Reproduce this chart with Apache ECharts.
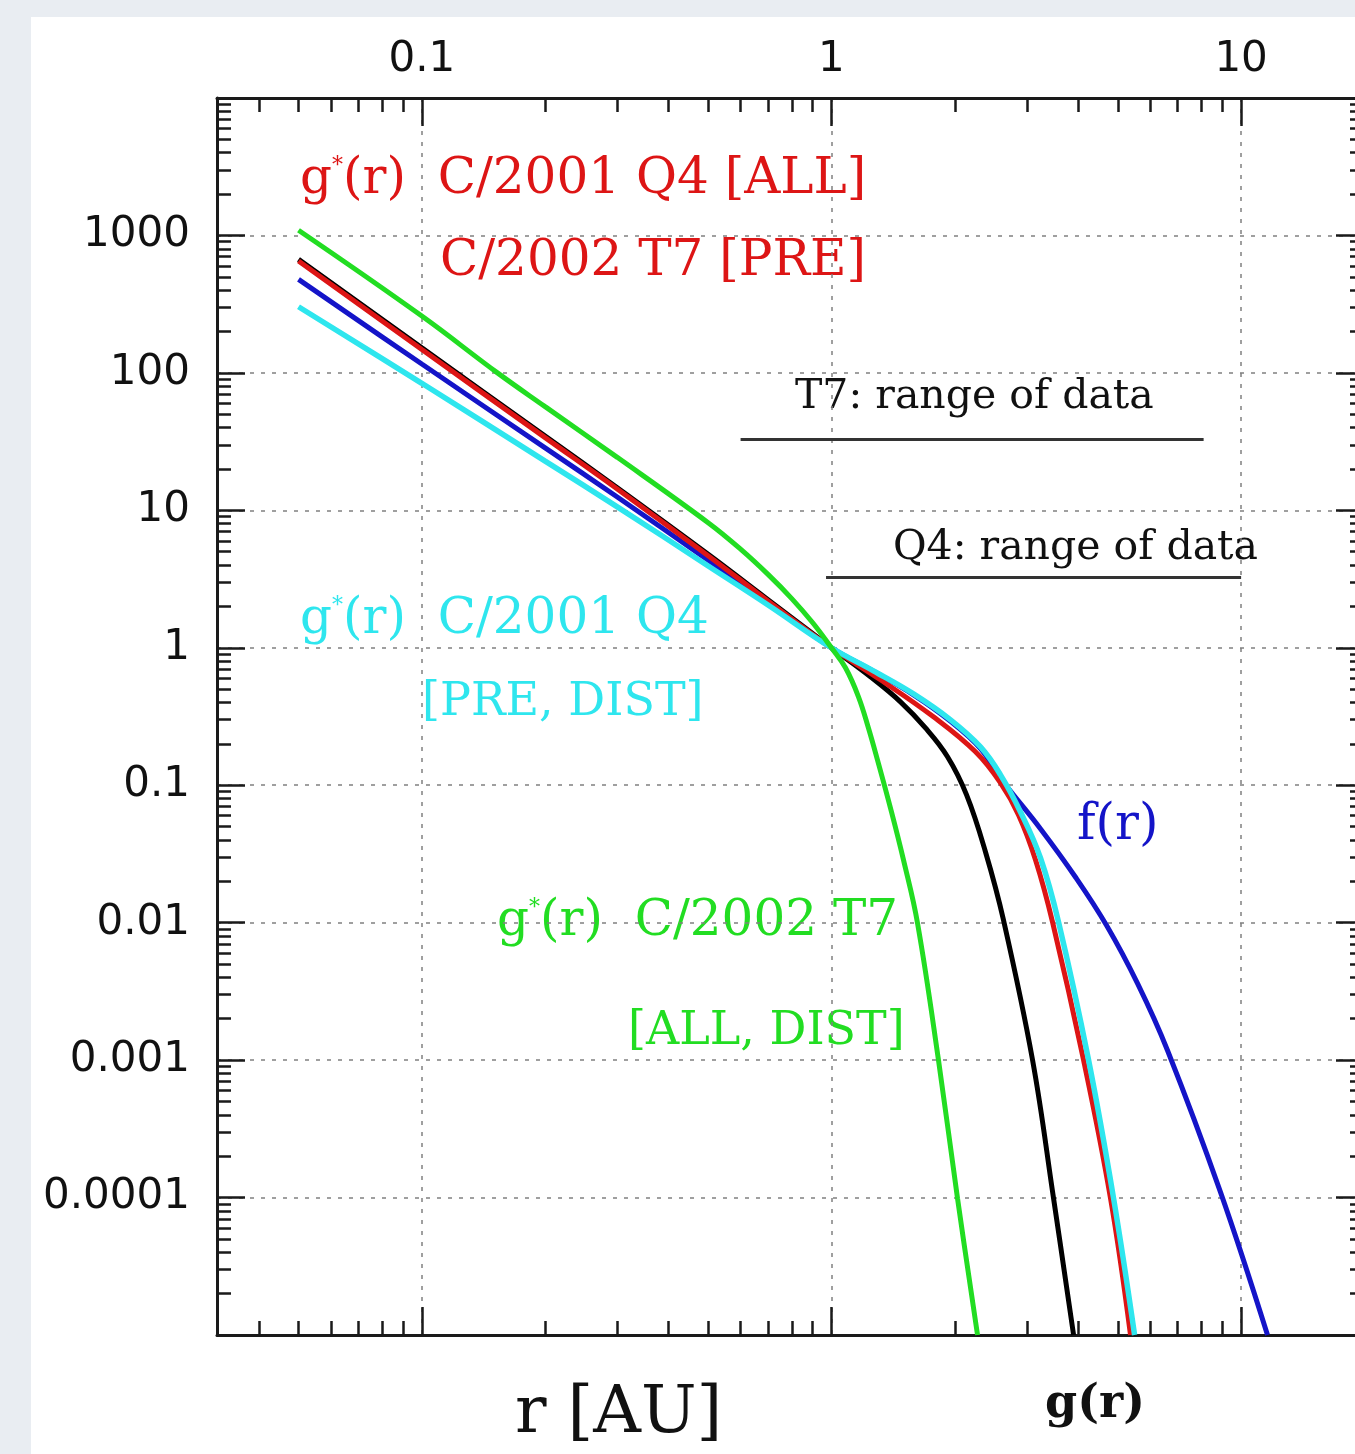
<!DOCTYPE html>
<html>
<head>
<meta charset="utf-8">
<script src="https://cdn.jsdelivr.net/npm/echarts@6/dist/echarts.min.js"></script>
<style>
html, body { margin: 0; padding: 0; background: #e9edf2; }
#chart { width: 1355px; height: 1454px; }
</style>
</head>
<body>
<div id="chart"></div>
<script>
// heliocentric distance r [AU] and normalised rates
const rBlack = [0.05, 0.1, 0.2, 0.3, 0.5, 0.7, 1, 1.245, 1.474, 1.696, 1.92, 2.137, 2.377, 2.63, 3.097, 3.484, 3.9];
const gBlack = [670, 152, 34.7, 14.6, 4.79, 2.24, 1, 0.615, 0.404, 0.261, 0.161, 0.085, 0.0327, 0.01045, 0.001, 0.0000989, 0.00001];

const rBlue = [0.05, 0.1, 0.2, 0.3, 0.5, 0.7, 1, 1.266, 1.586, 1.953, 2.311, 2.59, 3.24, 3.94, 4.7, 5.59, 6.61, 8.91, 11.6];
const fBlue = [479, 116, 28.5, 12.5, 4.33, 2.12, 1, 0.675, 0.455, 0.292, 0.185, 0.112, 0.0481, 0.0215, 0.0095, 0.0036, 0.00118, 0.000109, 0.00001];

const rRed = [0.05, 0.1, 0.2, 0.3, 0.5, 0.7, 1, 1.317, 1.774, 2.247, 2.586, 2.862, 3.149, 3.465, 4.125, 4.8, 5.37];
const gRed = [652, 148, 33.8, 14.3, 4.68, 2.19, 1, 0.585, 0.3145, 0.175, 0.104, 0.0608, 0.0286, 0.0101, 0.001, 0.0000986, 0.00001];

const rCyan = [0.05, 0.1, 0.2, 0.3, 0.5, 0.7, 1, 1.266, 1.586, 1.953, 2.311, 2.586, 2.894, 3.238, 3.584, 4.243, 4.883, 5.495];
const gCyan = [303, 84, 22.8, 10.6, 3.94, 2.05, 1, 0.68, 0.462, 0.299, 0.19, 0.119, 0.0639, 0.02955, 0.0101, 0.001, 0.0000986, 0.00001];

const rGreen = [0.05, 0.1, 0.153, 0.2, 0.3, 0.5, 0.6, 0.7, 0.8, 0.9, 1, 1.082, 1.164, 1.231, 1.295, 1.393, 1.499, 1.622, 1.825, 2.031, 2.273];
const gGreen = [1090, 259, 100, 56.8, 24.3, 8.13, 5.22, 3.42, 2.28, 1.52, 1, 0.715, 0.44, 0.261, 0.153, 0.0684, 0.0286, 0.00993, 0.001, 0.0000986, 0.00001];

// r ranges covered by the data of each comet
const t7Range = [0.6, 8.1];
const t7Level = 32.7;
const q4Range = [0.97, 10];
const q4Level = 3.24;

// axes
const xMin = 0.0316228, xMax = 19.95262;
const yMin = 1e-5, yMax = 1e4;
const xTicks = [0.1, 1, 10];
const xTickLabels = ['0.1', '1', '10'];
const yTicks = [1e-4, 1e-3, 1e-2, 0.1, 1, 10, 100, 1000];
const yTickLabels = ['0.0001', '0.001', '0.01', '0.1', '1', '10', '100', '1000'];

function minors (decades) {
  const out = [];
  decades.forEach(d => {
    for (let k = 2; k <= 9; k++) out.push(+(d * k).toPrecision(3));
  });
  return out;
}
const xMinor = minors([0.01, 0.1, 1, 10]);
const yMinor = minors([1e-5, 1e-4, 1e-3, 1e-2, 0.1, 1, 10, 100, 1000]);

const serif = '"DejaVu Serif", serif';
const sans = '"DejaVu Sans", sans-serif';
const frame = {color: '#1a1a1a', width: 3};
const tickStyle = {color: '#1a1a1a', width: 2.5};
const gridDash = {color: '#808080', width: 1.5, type: [4, 7]};

function pickLabel (v, ticks, labels) {
  let best = 0;
  ticks.forEach((t, i) => {
    if (Math.abs(Math.log10(t) - Math.log10(v)) < Math.abs(Math.log10(ticks[best]) - Math.log10(v))) best = i;
  });
  return labels[best];
}

function axis (dir, position, ticks, len, extra) {
  const a = {
    type: 'log',
    logBase: 10,
    position: position,
    min: dir === 'x' ? xMin : yMin,
    max: dir === 'x' ? xMax : yMax,
    axisLine: {show: false, onZero: false, lineStyle: frame},
    axisTick: {show: true, inside: true, length: len, lineStyle: tickStyle, customValues: ticks},
    axisLabel: {show: false},
    splitLine: {show: false},
    axisPointer: {show: false}
  };
  return Object.assign(a, extra || {});
}

function curve (name, rs, vs, color, width, z) {
  return {
    name: name,
    type: 'line',
    xAxisIndex: 0,
    yAxisIndex: 0,
    data: rs.map((r, i) => [r, vs[i]]),
    showSymbol: false,
    smooth: 0.4,
    lineStyle: {color: color, width: width},
    z: z
  };
}

function rangeBar (range, level) {
  return {
    type: 'line',
    xAxisIndex: 0,
    yAxisIndex: 0,
    data: [[range[0], level], [range[1], level]],
    showSymbol: false,
    lineStyle: {color: '#333', width: 3},
    z: 2
  };
}

function note (x, y, text, color, size, weight) {
  return {
    type: 'text',
    x: x,
    y: y,
    silent: true,
    style: {
      text: text,
      fill: color,
      fontSize: size,
      fontFamily: serif,
      fontWeight: weight || 'normal',
      align: 'left',
      verticalAlign: 'middle',
      rich: {
        n: {fill: color, fontSize: size, fontFamily: serif},
        s: {fill: color, fontSize: 22, fontFamily: serif, verticalAlign: 'top'}
      }
    }
  };
}

const red = '#dd1515';
const cyan = '#2ee6ee';
const green = '#22dd22';
const blue = '#1414c8';

const chart = echarts.init(document.getElementById('chart'), null, {renderer: 'canvas'});
const option = {
  animation: false,
  backgroundColor: '#e9edf2',
  grid: {left: 217, top: 98, width: 1147, height: 1237, containLabel: false, outerBoundsMode: 'none'},
  xAxis: [
    axis('x', 'bottom', xTicks, 28, {axisLine: {show: true, onZero: false, lineStyle: frame}, splitLine: {show: true, lineStyle: gridDash}}),
    axis('x', 'bottom', xMinor, 14),
    axis('x', 'top', xTicks, 28, {
      axisLine: {show: true, onZero: false, lineStyle: frame},
      axisLabel: {
        show: true, customValues: xTicks, margin: 17, color: '#111', fontSize: 42, fontFamily: sans,
        formatter: v => pickLabel(v, xTicks, xTickLabels)
      }
    }),
    axis('x', 'top', xMinor, 14)
  ],
  yAxis: [
    axis('y', 'left', yTicks, 28, {
      axisLine: {show: true, onZero: false, lineStyle: frame},
      splitLine: {show: true, lineStyle: gridDash},
      axisLabel: {
        show: true, customValues: yTicks, margin: 27, color: '#111', fontSize: 42, fontFamily: sans,
        formatter: v => pickLabel(v, yTicks, yTickLabels)
      }
    }),
    axis('y', 'left', yMinor, 14),
    axis('y', 'right', yTicks, 28, {axisLine: {show: true, onZero: false, lineStyle: frame}}),
    axis('y', 'right', yMinor, 14)
  ],
  series: [
    curve('g(r)', rBlack, gBlack, '#000000', 5, 3),
    curve('f(r)', rBlue, fBlue, blue, 5, 4),
    curve('g*(r) C/2001 Q4 [ALL], C/2002 T7 [PRE]', rRed, gRed, red, 5, 5),
    curve('g*(r) C/2001 Q4 [PRE, DIST]', rCyan, gCyan, cyan, 5.5, 6),
    curve('g*(r) C/2002 T7 [ALL, DIST]', rGreen, gGreen, green, 5, 7),
    rangeBar(t7Range, t7Level),
    rangeBar(q4Range, q4Level)
  ],
  graphic: [
    {type: 'rect', z: -10, silent: true, shape: {x: 31, y: 17, width: 1340, height: 1450}, style: {fill: '#ffffff'}},
    note(300, 180, '{n|g}{s|*}{n|(r)  C/2001 Q4 [ALL]}', red, 50),
    note(440, 262, 'C/2002 T7 [PRE]', red, 50),
    note(300, 620, '{n|g}{s|*}{n|(r)  C/2001 Q4}', cyan, 50),
    note(422, 703, '[PRE, DIST]', cyan, 46),
    note(497, 922, '{n|g}{s|*}{n|(r)  C/2002 T7}', green, 50),
    note(628, 1032, '[ALL, DIST]', green, 46),
    note(1077, 826, 'f(r)', blue, 50),
    note(795, 397, 'T7: range of data', '#111', 41),
    note(893, 548, 'Q4: range of data', '#111', 41),
    note(515, 1415, 'r [AU]', '#111', 66),
    note(1045, 1405, 'g(r)', '#111', 46, 'bold')
  ]
};
chart.setOption(option);
</script>
</body>
</html>
